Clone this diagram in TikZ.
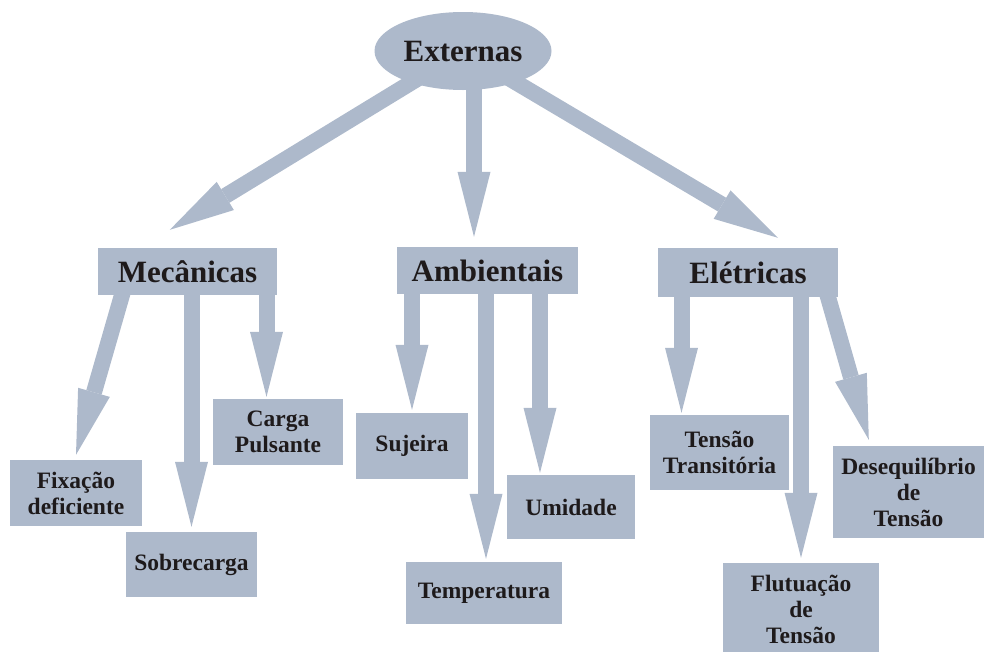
\documentclass[tikz,border=0pt]{standalone}
\usepackage{fontspec}
\setmainfont{Liberation Serif}
\usetikzlibrary{arrows.meta,shapes.geometric,backgrounds}
\definecolor{boxgray}{RGB}{173,185,203}
\definecolor{inkdark}{RGB}{30,26,27}

\begin{document}
\begin{tikzpicture}[x=1pt,y=-1pt,head/.style={ellipse,fill=boxgray,minimum width=177pt,minimum height=78pt,inner sep=0pt,text=inkdark,font=\fontsize{31}{35}\selectfont\bfseries},group/.style={rectangle,fill=boxgray,minimum height=47pt,inner sep=0pt,text=inkdark,font=\fontsize{31}{35}\selectfont\bfseries},cause/.style={rectangle,fill=boxgray,inner sep=0pt,align=center,text=inkdark,font=\fontsize{23.5}{26}\selectfont\bfseries},link/.style={draw=boxgray,line width=16pt,-{Triangle[length=65pt,width=33pt,line width=0pt]}}]
\useasboundingbox (0,0) rectangle (984,651);
\node[head] (ext) at (463,51) {Externas};
\node[group,minimum width=179pt] (mec) at (187.5,271.5) {Mecânicas};
\node[group,minimum width=181pt] (amb) at (487.5,270.5) {Ambientais};
\node[group,minimum width=180pt,minimum height=49pt] (ele) at (748,272.5) {Elétricas};
\node[cause,minimum width=132pt,minimum height=66pt] (fix) at (76,493) {Fixação\\deficiente};
\node[cause,minimum width=131pt,minimum height=65pt] (sob) at (191.5,564.5) {Sobrecarga};
\node[cause,minimum width=130pt,minimum height=66pt] (car) at (278,432) {Carga\\Pulsante};
\node[cause,minimum width=112pt,minimum height=66pt] (suj) at (412,446) {Sujeira};
\node[cause,minimum width=156pt,minimum height=62pt] (tem) at (484,593) {Temperatura};
\node[cause,minimum width=128pt,minimum height=64pt] (umi) at (571,507) {Umidade};
\node[cause,minimum width=139pt,minimum height=75pt] (tra) at (719.5,452.5) {Tensão\\Transitória};
\node[cause,minimum width=151pt,minimum height=92pt] (des) at (908.5,492) {Desequilíbrio\\de\\Tensão};
\node[cause,minimum width=156pt,minimum height=92pt] (flu) at (801,609) {Flutuação\\de\\Tensão};
\coordinate (tmec) at ([xshift=72pt,yshift=18pt]mec.north west);
\coordinate (tamb) at ([xshift=-13.5pt,yshift=10pt]amb.north);
\coordinate (tele) at ([xshift=30pt,yshift=10pt]ele.north);
\coordinate (tfix) at ([yshift=5pt]fix.north);
\coordinate (tsob) at ([yshift=5pt]sob.north);
\coordinate (tcar) at ([xshift=-11.5pt,yshift=2pt]car.north);
\coordinate (tsuj) at ([yshift=3pt]suj.north);
\coordinate (ttem) at ([xshift=2pt,yshift=3pt]tem.north);
\coordinate (tumi) at ([xshift=-31pt,yshift=2pt]umi.north);
\coordinate (ttra) at ([xshift=-38pt,yshift=2pt]tra.north);
\coordinate (tflu) at ([yshift=5pt]flu.north);
\coordinate (tdes) at ([xshift=36pt,yshift=6pt]des.north west);
\begin{scope}[on background layer]
\draw[link] (ext.center) -- (tmec);
\draw[link] (tamb |- ext.center) -- (tamb);
\draw[link] (ext.center) -- (tele);
\draw[link] ([xshift=27pt,yshift=10pt]mec.south west) -- (tfix);
\draw[link] (tsob |- mec.center) -- (tsob);
\draw[link] (tcar |- mec.center) -- (tcar);
\draw[link] (tsuj |- amb.center) -- (tsuj);
\draw[link] (ttem |- amb.center) -- (ttem);
\draw[link] (tumi |- amb.center) -- (tumi);
\draw[link] (ttra |- ele.center) -- (ttra);
\draw[link] (tflu |- ele.center) -- (tflu);
\draw[link] ([xshift=-13pt,yshift=10pt]ele.south east) -- (tdes);
\end{scope}
\end{tikzpicture}
\end{document}
